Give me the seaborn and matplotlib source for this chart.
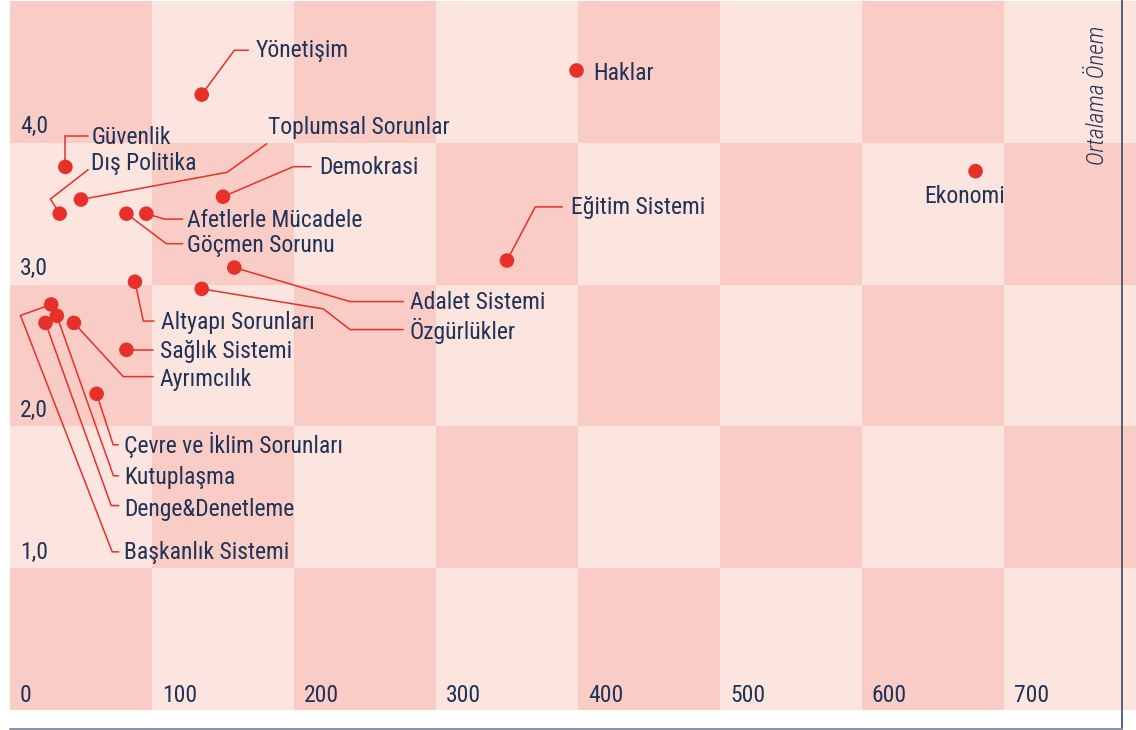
import numpy as np
import pandas as pd
import matplotlib.pyplot as plt
from matplotlib.colors import ListedColormap
from matplotlib.lines import Line2D
from matplotlib import font_manager
import seaborn as sns

# ------------------------------------------------------------
# Data
# ------------------------------------------------------------
topics = [
    "Yönetişim", "Haklar", "Ekonomi", "Güvenlik", "Dış Politika",
    "Toplumsal Sorunlar", "Demokrasi", "Afetlerle Mücadele", "Göçmen Sorunu",
    "Adalet Sistemi", "Özgürlükler", "Eğitim Sistemi", "Altyapı Sorunları",
    "Sağlık Sistemi", "Ayrımcılık", "Çevre ve İklim Sorunları", "Kutuplaşma",
    "Denge&Denetleme", "Başkanlık Sistemi",
]
mentions = [135, 399, 680, 39, 35, 50, 150, 96, 82, 158, 135, 350, 88,
            82, 45, 61, 33, 25, 29]
importance = [4.34, 4.51, 3.80, 3.83, 3.50, 3.60, 3.62, 3.50, 3.50, 3.12,
              2.97, 3.17, 3.02, 2.54, 2.73, 2.23, 2.78, 2.73, 2.86]

x_ticks = [0, 100, 200, 300, 400, 500, 600, 700]
y_ticks = [1, 2, 3, 4]
y_tick_labels = ["1,0", "2,0", "3,0", "4,0"]

df = pd.DataFrame({"topic": topics, "mentions": mentions, "importance": importance})

# label layout: leader path offsets (px, right / down) from the dot, text offset, alignment
layout = {
    "Yönetişim": ([(0, 0), (32.6, -44.3), (46.6, -44.3)], (54.3, -37.3), "left"),
    "Haklar": ([], (16.7, 9.3), "left"),
    "Ekonomi": ([], (-10.7, 32.3), "center"),
    "Güvenlik": ([(0, 0), (0, -31.3), (23, -31.3)], (26.3, -23.3), "left"),
    "Dış Politika": ([(0, 0), (-9.3, -14.6), (28.4, -44)], (31.7, -44), "left"),
    "Toplumsal Sorunlar": ([(0, 0), (146.3, -27.3), (185.7, -55.7)], (187, -65.7), "left"),
    "Demokrasi": ([(0, 0), (70.3, -30), (88, -30)], (96.3, -22.4), "left"),
    "Afetlerle Mücadele": ([(0, 0), (18.3, 5.4), (36.3, 5.4)], (40.6, 13.4), "left"),
    "Göçmen Sorunu": ([(0, 0), (40, 30), (56.3, 30)], (60.6, 38.8), "left"),
    "Adalet Sistemi": ([(0, 0), (115.7, 34), (169, 34)], (175.7, 41.6), "left"),
    "Özgürlükler": ([(0, 0), (121.6, 20), (148.3, 40.7), (201.6, 40.7)], (208.3, 50), "left"),
    "Eğitim Sistemi": ([(0, 0), (28.3, -53.6), (55.3, -53.6)], (64, -46), "left"),
    "Altyapı Sorunları": ([(0, 0), (8.4, 39.3), (19, 39.3)], (25.7, 47), "left"),
    "Sağlık Sistemi": ([(0, 0), (26.6, 0)], (33.3, 8.4), "left"),
    "Ayrımcılık": ([(0, 0), (49.3, 53.7), (79.3, 53.7)], (86, 62.7), "left"),
    "Çevre ve İklim Sorunları": ([(0, 0), (16.6, 51), (21.6, 51)], (27.3, 59.4), "left"),
    "Kutuplaşma": ([(0, 0), (56.6, 160), (61.6, 160)], (67.3, 168.3), "left"),
    "Denge&Denetleme": ([(0, 0), (65.7, 182.7), (73.3, 182.7)], (79, 192.7), "left"),
    "Başkanlık Sistemi": ([(0, 0), (-30.7, 11), (61, 247.4), (67.6, 247.4)], (73.3, 255), "left"),
}

# ------------------------------------------------------------
# Style
# ------------------------------------------------------------
sns.set_style("white")
installed = {f.name for f in font_manager.fontManager.ttflist}
fams = [f for f in ["Roboto Condensed", "Roboto", "DejaVu Sans"] if f in installed]
plt.rcParams["font.family"] = fams

RED = "#E8302A"
NAVY = "#1F3358"
LIGHT = "#FCE4DF"
DARK = "#F9CDC5"
FS = 17

fig = plt.figure(figsize=(11.36, 7.30), dpi=100)
ax = fig.add_axes([10 / 1136, 20 / 730, 1126 / 1136, 709 / 730])

# checkerboard background
xe = np.arange(0, 900, 100)
ye = np.arange(0, 6, 1)
checker = (np.add.outer(np.arange(5), np.arange(8)) % 2 == 0).astype(int)
ax.pcolormesh(xe, ye, checker, cmap=ListedColormap([LIGHT, DARK]), zorder=0)

sns.scatterplot(data=df, x="mentions", y="importance", s=110, color=RED,
                edgecolor="none", linewidth=0, legend=False, ax=ax, zorder=4)
ax.set_xlim(0, 793)
ax.set_ylim(0, 5)
ax.axis("off")


def px_to_data(x, y, dx, dy):
    base = ax.transData.transform((x, y))
    return ax.transData.inverted().transform((base[0] + dx, base[1] - dy))


for _, row in df.iterrows():
    path, (tx, ty), ha = layout[row["topic"]]
    if path:
        pts = np.array([px_to_data(row["mentions"], row["importance"], dx, dy) for dx, dy in path])
        ax.plot(pts[:, 0], pts[:, 1], color=RED, lw=1.1, zorder=3, solid_joinstyle="miter")
    lx, ly = px_to_data(row["mentions"], row["importance"], tx, ty)
    ax.text(lx, ly, row["topic"], ha=ha, va="baseline", fontsize=FS, color=NAVY, zorder=5)

# tick labels drawn inside the cells
for v in x_ticks:
    lx, ly = px_to_data(v, 0, 10, -8.3)
    ax.text(lx, ly, str(v), ha="left", va="baseline", fontsize=FS, color=NAVY)
for v, lab in zip(y_ticks, y_tick_labels):
    lx, ly = px_to_data(0, v, 10, -9.7)
    ax.text(lx, ly, lab, ha="left", va="baseline", fontsize=FS, color=NAVY)

lx, ly = px_to_data(0, 5, 1097 - 10, 25)
ax.text(lx, ly, "Ortalama Önem", rotation=90, ha="center", va="top",
        fontsize=17, style="italic", fontweight="light", color=NAVY)

# frame lines
fig.add_artist(Line2D([1122 / 1136] * 2, [0, 1], transform=fig.transFigure, color="#3A4868", lw=1.2))
fig.add_artist(Line2D([10 / 1136, 1122 / 1136], [1.5 / 730] * 2, transform=fig.transFigure, color="#8A93A3", lw=1.5))

plt.savefig("out.png", dpi=100)
plt.close()
